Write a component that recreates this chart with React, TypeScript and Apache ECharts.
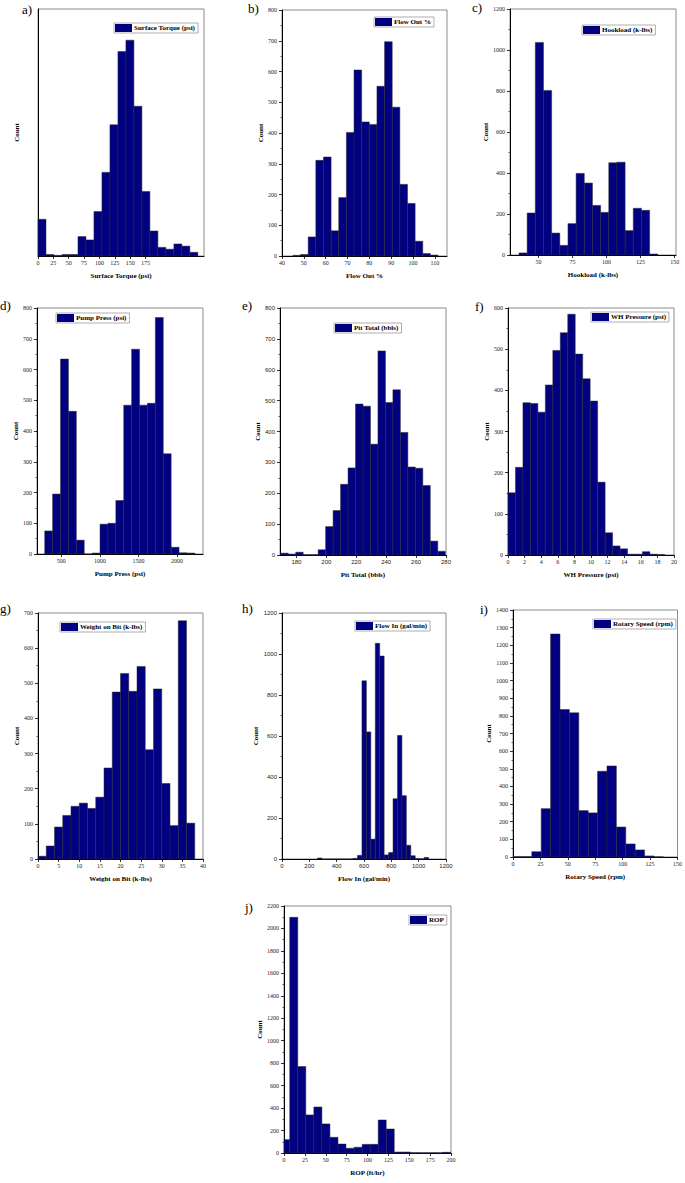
import React, { useEffect, useRef } from 'react';
import * as echarts from 'echarts';

const NAVY = '#000080';
const SERIF = '"Liberation Serif", "Times New Roman", serif';
const SANS = '"Liberation Sans", Arial, sans-serif';

// a) Surface Torque (psi)
const torqueStart = 0;
const torqueWidth = 13;
const torqueCounts = [119, 5, 2, 5, 5, 63, 52, 144, 271, 425, 662, 699, 485, 209, 81, 28, 22, 39, 32, 12];
const torqueTicks = [0, 25, 50, 75, 100, 125, 150, 175];

// b) Flow Out %
const flowOutStart = 45;
const flowOutWidth = 3.5;
const flowOutCounts = [2, 5, 62, 311, 322, 82, 190, 402, 605, 436, 428, 552, 697, 484, 233, 171, 48, 8, 3];
const flowOutTicks = [40, 50, 60, 70, 80, 90, 100, 110];

// c) Hookload (k-lbs)
const hookStart = 35.6;
const hookWidth = 6;
const hookCounts = [10, 205, 1037, 803, 107, 47, 153, 398, 351, 242, 208, 450, 453, 119, 228, 218, 5];
const hookTicks = [50, 75, 100, 125, 150];

// d) Pump Press (psi)
const pumpStart = 284;
const pumpWidth = 102.5;
const pumpCounts = [75, 195, 634, 464, 45, 0, 3, 97, 100, 174, 484, 666, 484, 490, 769, 326, 22, 4, 3];
const pumpTicks = [500, 1000, 1500, 2000];

// e) Pit Total (bbls)
const pitStart = 169.5;
const pitWidth = 5;
const pitCounts = [6, 3, 9, 1, 1, 17, 92, 144, 229, 282, 489, 482, 359, 661, 494, 535, 397, 285, 281, 225, 45, 12];
const pitTicks = [180, 200, 220, 240, 260, 280];

// f) WH Pressure (psi)
const whStart = 0;
const whWidth = 0.9;
const whCounts = [151, 213, 370, 368, 347, 413, 497, 540, 585, 488, 428, 374, 177, 54, 22, 15, 2, 2, 8, 2, 1];
const whTicks = [0, 2, 4, 6, 8, 10, 12, 14, 16, 18, 20];

// g) Weight on Bit (k-lbs)
const wobStart = 0;
const wobWidth = 2;
const wobCounts = [8, 37, 91, 124, 150, 159, 144, 176, 259, 475, 528, 477, 548, 311, 484, 215, 95, 678, 102];
const wobTicks = [0, 5, 10, 15, 20, 25, 30, 35, 40];

// h) Flow In (gal/min)
const flowInStart = 260;
const flowInWidth = 32.5;
const flowInCounts = [5, 0, 0, 0, 0, 0, 0, 0, 3, 18, 869, 620, 97, 1052, 990, 20, 32, 294, 603, 309, 67, 16, 2, 1, 8];
const flowInTicks = [0, 200, 400, 600, 800, 1000, 1200];

// i) Rotary Speed (rpm)
const rpmStart = 0;
const rpmWidth = 8.57;
const rpmCounts = [2, 2, 30, 274, 1264, 836, 817, 263, 250, 486, 516, 170, 74, 40, 6, 1];
const rpmTicks = [0, 25, 50, 75, 100, 125, 150];

// j) ROP (ft/hr)
const ropStart = -2.76;
const ropWidth = 9.63;
const ropCounts = [119, 2099, 770, 339, 410, 259, 140, 80, 42, 51, 77, 77, 294, 214, 9, 9, 3, 2, 2, 2, 6];
const ropTicks = [0, 25, 50, 75, 100, 125, 150, 175, 200];

const panels = [
  { tag: 'a)', tagX: 22, tagY: 10, name: 'Surface Torque (psi)', xName: 'Surface Torque (psi)', start: torqueStart, width: torqueWidth, counts: torqueCounts, ticks: torqueTicks, xMin: 0, xMax: 270, yMax: 800, yInt: 100, hideY: true, grid: [38, 9, 166, 247], legend: [114, 23], font: SERIF },
  { tag: 'b)', tagX: 248, tagY: 9, name: 'Flow Out %', xName: 'Flow Out %', start: flowOutStart, width: flowOutWidth, counts: flowOutCounts, ticks: flowOutTicks, xMin: 40, xMax: 115.6, yMax: 800, yInt: 100, grid: [282, 10, 165, 246], legend: [374, 17], font: SERIF },
  { tag: 'c)', tagX: 472, tagY: 8, name: 'Hookload (k-lbs)', xName: 'Hookload (k-lbs)', start: hookStart, width: hookWidth, counts: hookCounts, ticks: hookTicks, xMin: 29, xMax: 151, yMax: 1200, yInt: 200, grid: [510, 9, 166, 246], legend: [582, 25], font: SERIF },
  { tag: 'd)', tagX: 0, tagY: 306, name: 'Pump Press (psi)', xName: 'Pump Press (psi)', start: pumpStart, width: pumpWidth, counts: pumpCounts, ticks: pumpTicks, xMin: 184, xMax: 2337, yMax: 800, yInt: 100, grid: [37, 308, 166, 246], legend: [56, 313], font: SERIF },
  { tag: 'e)', tagX: 242, tagY: 306, name: 'Pit Total (bbls)', xName: 'Pit Total (bbls)', start: pitStart, width: pitWidth, counts: pitCounts, ticks: pitTicks, xMin: 169, xMax: 280, yMax: 800, yInt: 100, grid: [280, 308, 166, 247], legend: [334, 323], font: SANS },
  { tag: 'f)', tagX: 475, tagY: 307, name: 'WH Pressure (psi)', xName: 'WH Pressure (psi)', start: whStart, width: whWidth, counts: whCounts, ticks: whTicks, xMin: 0, xMax: 20, yMax: 600, yInt: 100, grid: [508, 308, 166, 247], legend: [591, 312], font: SERIF },
  { tag: 'g)', tagX: 0, tagY: 609, name: 'Weight on Bit (k-lbs)', xName: 'Weight on Bit (k-lbs)', start: wobStart, width: wobWidth, counts: wobCounts, ticks: wobTicks, xMin: 0, xMax: 40, yMax: 700, yInt: 100, grid: [38, 613, 165, 246], legend: [60, 622], font: SERIF },
  { tag: 'h)', tagX: 242, tagY: 609, name: 'Flow In (gal/min)', xName: 'Flow In (gal/min)', start: flowInStart, width: flowInWidth, counts: flowInCounts, ticks: flowInTicks, xMin: 0, xMax: 1200, yMax: 1200, yInt: 200, grid: [282, 613, 164, 246], legend: [355, 621], font: SANS },
  { tag: 'i)', tagX: 480, tagY: 610, name: 'Rotary Speed (rpm)', xName: 'Rotary Speed (rpm)', start: rpmStart, width: rpmWidth, counts: rpmCounts, ticks: rpmTicks, xMin: 0, xMax: 150, yMax: 1400, yInt: 100, grid: [513, 610, 165, 247], legend: [593, 619], font: SERIF },
  { tag: 'j)', tagX: 245, tagY: 908, name: 'ROP', xName: 'ROP (ft/hr)', start: ropStart, width: ropWidth, counts: ropCounts, ticks: ropTicks, xMin: 0, xMax: 200, yMax: 2200, yInt: 200, grid: [284, 906, 167, 247], legend: [409, 915], font: SERIF },
];

const plain = (v: number) => String(v);

function renderBar(params: any, api: any) {
  const p0 = api.coord([api.value(0), api.value(2)]);
  const p1 = api.coord([api.value(1), 0]);
  const cs = params.coordSys;
  const rect = echarts.graphic.clipRectByRect(
    { x: p0[0], y: p0[1], width: p1[0] - p0[0], height: p1[1] - p0[1] },
    { x: cs.x, y: cs.y, width: cs.width, height: cs.height }
  );
  if (!rect) return null;
  return {
    type: 'rect',
    shape: rect,
    style: { fill: NAVY, stroke: '#2a2a2a', lineWidth: 0.5 },
  };
}

export default function App() {
  const ref = useRef<HTMLDivElement>(null);
  useEffect(() => {
    document.body.style.margin = '0';
    if (!ref.current) return;
    const chart = echarts.init(ref.current, null, { renderer: 'svg' });
    const grids: any[] = [];
    const xAxes: any[] = [];
    const yAxes: any[] = [];
    const series: any[] = [];
    const legends: any[] = [];
    const graphics: any[] = [];
    panels.forEach((p, i) => {
      grids.push({
        left: p.grid[0], top: p.grid[1], width: p.grid[2], height: p.grid[3],
        show: true, borderColor: '#8c8c8c', borderWidth: 1, backgroundColor: 'transparent',
        containLabel: false,
      });
      xAxes.push({
        type: 'value', gridIndex: i, min: p.xMin, max: p.xMax,
        axisLine: { show: true, onZero: false, lineStyle: { color: '#000', width: 1 } },
        axisTick: { show: true, customValues: p.ticks, length: 3, lineStyle: { color: '#000', width: 0.8 } },
        axisLabel: { customValues: p.ticks, formatter: plain, fontSize: 6, fontFamily: p.font, color: '#222', margin: 4, showMinLabel: true, showMaxLabel: true },
        splitLine: { show: false },
        name: p.xName, nameLocation: 'middle', nameGap: 16,
        nameTextStyle: { fontFamily: SERIF, fontWeight: 'bold', fontSize: 7, color: '#000' },
      });
      yAxes.push({
        type: 'value', gridIndex: i, min: 0, max: p.yMax, interval: p.yInt,
        axisLine: { show: true, onZero: false, lineStyle: { color: '#000', width: 1 } },
        axisTick: { show: !p.hideY, length: 3, lineStyle: { color: '#000', width: 0.8 } },
        minorTick: { show: !p.hideY, splitNumber: 2, length: 1.5, lineStyle: { color: '#000', width: 0.6 } },
        axisLabel: { show: !p.hideY, formatter: plain, fontSize: 6, fontFamily: p.font, color: '#222', margin: 5 },
        splitLine: { show: false },
        name: 'Count', nameLocation: 'middle', nameGap: 18, nameRotate: 90,
        nameTextStyle: { fontFamily: SERIF, fontWeight: 'bold', fontSize: 7, color: '#000' },
      });
      series.push({
        type: 'custom', name: p.name, xAxisIndex: i, yAxisIndex: i,
        itemStyle: { color: NAVY },
        encode: { x: [0, 1], y: 2 },
        renderItem: renderBar,
        data: p.counts.map((c, k) => [p.start + k * p.width, p.start + (k + 1) * p.width, c]),
      });
      legends.push({
        show: true, data: [p.name], left: p.legend[0], top: p.legend[1],
        icon: 'rect', itemWidth: 17, itemHeight: 8, itemGap: 0,
        padding: [1, 3, 1, 1], borderColor: '#8c8c8c', borderWidth: 0.7,
        selectedMode: false,
        textStyle: { fontFamily: SERIF, fontWeight: 'bold', fontSize: 7, color: '#000', padding: [0, 0, 0, -3] },
      });
      graphics.push({
        type: 'text', left: p.tagX, top: p.tagY - 7,
        style: { text: p.tag, fontFamily: SERIF, fontSize: 13, fill: '#000' },
      });
    });
    chart.setOption({
      animation: false,
      backgroundColor: '#fff',
      grid: grids,
      xAxis: xAxes,
      yAxis: yAxes,
      series,
      legend: legends,
      graphic: graphics,
    });
    return () => chart.dispose();
  }, []);
  return <div ref={ref} style={{ width: 685, height: 1183 }} />;
}
